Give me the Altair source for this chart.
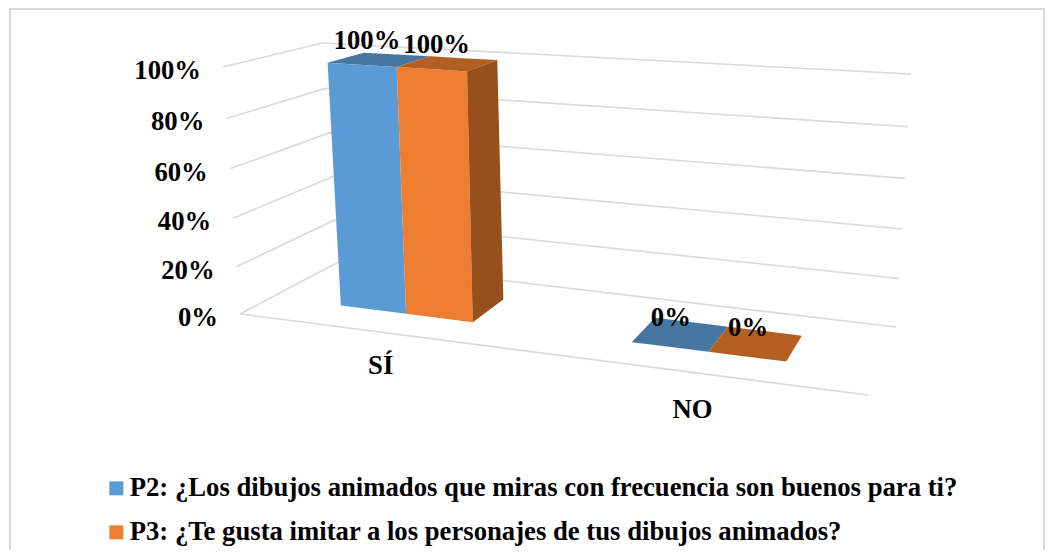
import altair as alt
import pandas as pd

categories = ["SÍ", "NO"]
series = ["P2: ¿Los dibujos animados que miras con frecuencia son buenos para ti?",
          "P3: ¿Te gusta imitar a los personajes de tus dibujos animados?"]
p2_values = [1.0, 0.0]
p3_values = [1.0, 0.0]
tick_values = [0.0, 0.2, 0.4, 0.6, 0.8, 1.0]
cluster_edges = [(0.123, 0.2375, 0.352), (0.616, 0.739, 0.861)]
depth_front, depth_back = 0.295, 0.69

front_colors = ["#5B9BD5", "#ED7D31"]
top_colors = ["#4677A3", "#B45F22"]
side_color = "#974F1C"
grid_color = "#D9D9D9"
FONT = "Liberation Serif"
FONT_SIZE = 26.7

W, H = 1037, 542
X0, Y0 = 8, 8
frame_xs = [10, 1044]
frame_y = 9


def project(u, v, d):
    """Oblique camera fitted to the picture: u along categories, v value, d depth."""
    w = 1 - 0.0905 * u + 0.1341 * d
    fx = (549.5 * u + 145.6 * d + 240) / w
    fy = (45.3 * u - 18 * d + 314) / w
    warp = v * 0.95 / (1 - 0.05 * v)
    return (fx + v * (-17 + 33 * u - d),
            fy - warp * (247 + 35 * u - 29 * d))


def polygon_rows(pts, key, **extra):
    """Turn a convex polygon into x / y / y2 rows for an area mark."""
    xs = sorted({round(p[0], 2) for p in pts})
    n = len(pts)
    rows = []
    for x in xs:
        ys = []
        for i in range(n):
            a, b = pts[i], pts[(i + 1) % n]
            lo, hi = min(a[0], b[0]), max(a[0], b[0])
            if lo - 0.01 <= x <= hi + 0.01:
                if hi - lo < 0.02:
                    ys += [a[1], b[1]]
                else:
                    ys.append(a[1] + (b[1] - a[1]) * (x - a[0]) / (b[0] - a[0]))
        rows.append(dict(face=key, x=x, y=min(ys), y2=max(ys), **extra))
    return rows


xs = alt.Scale(domain=[X0, X0 + W], range=[0, W], nice=False, zero=False)
ys = alt.Scale(domain=[Y0, Y0 + H], range=[0, H], nice=False, zero=False)
X = alt.X("x:Q", scale=xs, axis=None)
Y = alt.Y("y:Q", scale=ys, axis=None)

# frame
frame_rows = [
    dict(line="l", i=0, x=frame_xs[0], y=Y0 + H),
    dict(line="l", i=1, x=frame_xs[0], y=frame_y),
    dict(line="l", i=2, x=frame_xs[1], y=frame_y),
    dict(line="l", i=3, x=frame_xs[1], y=Y0 + H),
]
frame = alt.Chart(pd.DataFrame(frame_rows)).mark_line(color=grid_color, strokeWidth=2).encode(
    x=X, y=Y, detail="line:N", order="i:Q")

# grid
grid_rows = []
for t in tick_values:
    for i, (u, d) in enumerate([(0, 0), (0, 1), (1, 1)]):
        px, py = project(u, t, d)
        grid_rows.append(dict(line=f"g{t}", i=i, x=px, y=py))
for i, (u, d) in enumerate([(0, 0), (1, 0)]):
    px, py = project(u, 0, d)
    grid_rows.append(dict(line="front", i=i, x=px, y=py))
grid = alt.Chart(pd.DataFrame(grid_rows)).mark_line(color=grid_color, strokeWidth=1.6).encode(
    x=X, y=Y, detail="line:N", order="i:Q")

# bar faces
front_rows, top_rows, side_rows = [], [], []
for c, edges in enumerate(cluster_edges):
    vals = [p2_values[c], p3_values[c]]
    for s, v in enumerate(vals):
        u0, u1 = edges[s], edges[s + 1]
        tag = f"{c}-{s}"
        if v > 0:
            front_rows += polygon_rows(
                [project(u0, 0, depth_front), project(u1, 0, depth_front),
                 project(u1, v, depth_front), project(u0, v, depth_front)],
                tag, series=series[s])
        top_rows += polygon_rows(
            [project(u0, v, depth_front), project(u1, v, depth_front),
             project(u1, v, depth_back), project(u0, v, depth_back)],
            tag, color=top_colors[s])
    u1, v = edges[2], vals[1]
    if v > 0:
        side_rows += polygon_rows(
            [project(u1, 0, depth_front), project(u1, 0, depth_back),
             project(u1, v, depth_back), project(u1, v, depth_front)],
            f"{c}", color=side_color)

front = alt.Chart(pd.DataFrame(front_rows)).mark_area(interpolate="linear", opacity=1).encode(
    x=X, y=Y, y2="y2:Q", detail="face:N",
    color=alt.Color("series:N", scale=alt.Scale(domain=series, range=front_colors), sort=series,
                    legend=alt.Legend(
                        orient="none", legendX=95, legendY=467, title=None,
                        symbolType="square", symbolSize=196, symbolStrokeWidth=0,
                        labelFont=FONT, labelFontSize=FONT_SIZE, labelFontWeight="bold", labelColor="black",
                        labelLimit=1000, rowPadding=16, labelOffset=0, columns=1, padding=0)))
top = alt.Chart(pd.DataFrame(top_rows)).mark_area(interpolate="linear").encode(
    x=X, y=Y, y2="y2:Q", detail="face:N", color=alt.Color("color:N", scale=None))
side = alt.Chart(pd.DataFrame(side_rows)).mark_area(interpolate="linear").encode(
    x=X, y=Y, y2="y2:Q", detail="face:N", color=alt.Color("color:N", scale=None))

# tick labels
tick_rows = []
for t in tick_values:
    px, py = project(0, t, 0)
    tick_rows.append(dict(x=px - 22, y=py + 4, label=f"{t:.0%}"))
ticks = alt.Chart(pd.DataFrame(tick_rows)).mark_text(
    font=FONT, fontSize=FONT_SIZE, fontWeight="bold", align="right", baseline="middle", color="black"
).encode(x=X, y=Y, text="label:N")

# category labels
cat_rows = []
for c, edges in enumerate(cluster_edges):
    u = edges[1]
    px, py = project(u, 0, 0)
    cat_rows.append(dict(x=px + 3 - 4 * u, y=py + 33 + 6 * u, label=categories[c]))
cats = alt.Chart(pd.DataFrame(cat_rows)).mark_text(
    font=FONT, fontSize=FONT_SIZE, fontWeight="bold", align="center", baseline="middle", color="black"
).encode(x=X, y=Y, text="label:N")

# value labels
val_rows = []
for c, edges in enumerate(cluster_edges):
    vals = [p2_values[c], p3_values[c]]
    for s, v in enumerate(vals):
        px, py = project((edges[s] + edges[s + 1]) / 2, v, depth_front)
        val_rows.append(dict(x=px + 1 + 4 * v, y=py - 29 + 5 * v, label=f"{v:.0%}"))
labels = alt.Chart(pd.DataFrame(val_rows)).mark_text(
    font=FONT, fontSize=FONT_SIZE, fontWeight="bold", align="center", baseline="middle", color="black"
).encode(x=X, y=Y, text="label:N")

chart = alt.layer(frame, grid, front, side, top, ticks, cats, labels).resolve_scale(
    color="independent"
).properties(
    width=W, height=H, padding=0, autosize=alt.AutoSizeParams(type="none")
).configure_view(stroke=None)

chart.save("out.html", embed_options={"renderer": "svg", "actions": False})
